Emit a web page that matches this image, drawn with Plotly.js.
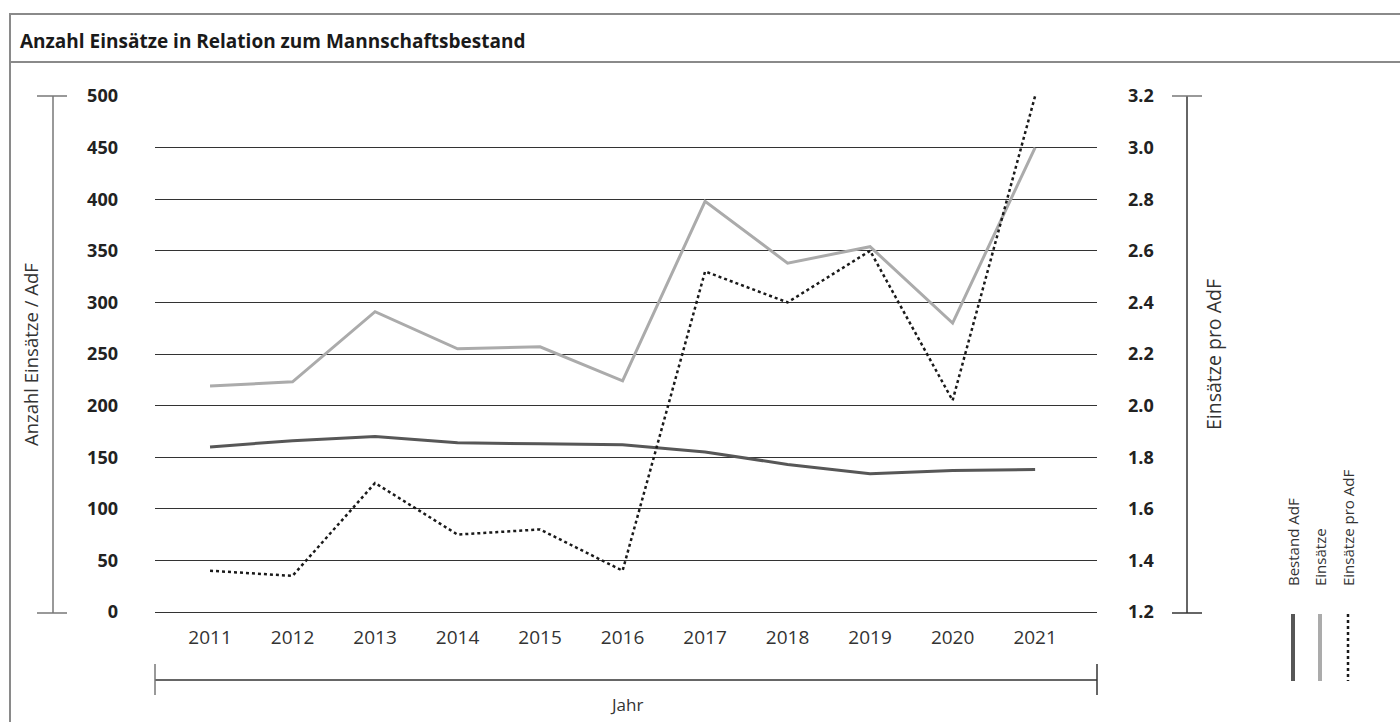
<!DOCTYPE html>
<html>
<head>
<meta charset="utf-8">
<script src="https://cdn.plot.ly/plotly-3.0.1.min.js"></script>
<style>
  html, body { margin: 0; padding: 0; background: #fff; }
  #chart { width: 1400px; height: 722px; }
</style>
</head>
<body>
<div id="chart"></div>
<script>
const years = ['2011', '2012', '2013', '2014', '2015', '2016', '2017', '2018', '2019', '2020', '2021'];
const bestand = [160, 166, 170, 164, 163, 162, 155, 143, 134, 137, 138];
const einsaetze = [219, 223, 291, 255, 257, 224, 398, 338, 354, 280, 450];
const proAdF = [1.36, 1.34, 1.70, 1.50, 1.52, 1.36, 2.52, 2.40, 2.60, 2.02, 3.20];

const leftTicks = [0, 50, 100, 150, 200, 250, 300, 350, 400, 450, 500];
const rightTicks = [1.2, 1.4, 1.6, 1.8, 2.0, 2.2, 2.4, 2.6, 2.8, 3.0, 3.2];
const seriesNames = ['Bestand AdF', 'Einsätze', 'Einsätze pro AdF'];

const W = 1400, H = 722;
const px = x => x / W;
const py = y => (H - y) / H;
const FONT = 'Open Sans, Noto Sans, sans-serif';

const traces = [
    { x: years, y: bestand, name: seriesNames[0], type: 'scatter', mode: 'lines',
      line: { color: '#575757', width: 3 } },
    { x: years, y: einsaetze, name: seriesNames[1], type: 'scatter', mode: 'lines',
      line: { color: '#ababab', width: 3 } },
    { x: years, y: proAdF, name: seriesNames[2], type: 'scatter', mode: 'lines', yaxis: 'y2',
      line: { color: '#1a1a1a', width: 2.5, dash: 'dot' } }
];

// frame, decorative axis brackets, legend samples
const line = (x0, y0, x1, y1, color, width, dash) => ({
    type: 'line', xref: 'paper', yref: 'paper',
    x0: px(x0), y0: py(y0), x1: px(x1), y1: py(y1),
    line: { color: color, width: width, dash: dash || 'solid' }
});

const shapes = [
    line(9, 14, 1400, 14, '#8a8a8a', 2),
    line(10, 14, 10, 722, '#8a8a8a', 2),
    line(9, 62, 1400, 62, '#8a8a8a', 2),
    // left bracket
    line(53, 96, 53, 613, '#777', 1.5),
    line(37, 96, 67, 96, '#777', 1.5),
    line(37, 613, 67, 613, '#777', 1.5),
    // right bracket
    line(1187, 96, 1187, 613, '#333', 1.5),
    line(1172, 96, 1202, 96, '#777', 1.5),
    line(1172, 613, 1202, 613, '#333', 1.5),
    // bottom bracket
    line(155, 680, 1097, 680, '#333', 1.5),
    line(155, 664, 155, 695, '#777', 1.5),
    line(1097, 664, 1097, 695, '#333', 1.5)
];

const legendX = [1293, 1320, 1348];
traces.forEach((t, i) => {
    shapes.push(line(legendX[i], 614, legendX[i], 681, t.line.color, i === 2 ? 2.5 : 4, t.line.dash));
});

const annotations = [
    { text: '<b>Anzahl Einsätze in Relation zum Mannschaftsbestand</b>', xref: 'paper', yref: 'paper',
      x: px(18), y: py(41), xanchor: 'left', yanchor: 'middle', showarrow: false,
      font: { family: FONT, size: 19, color: '#1a1a1a' } },
    { text: 'Anzahl Einsätze / AdF', xref: 'paper', yref: 'paper', textangle: -90,
      x: px(30), y: py(355), xanchor: 'center', yanchor: 'middle', showarrow: false,
      font: { family: FONT, size: 18.5, color: '#333' } },
    { text: 'Einsätze pro AdF', xref: 'paper', yref: 'paper', textangle: -90,
      x: px(1213), y: py(355), xanchor: 'center', yanchor: 'middle', showarrow: false,
      font: { family: FONT, size: 19.5, color: '#333' } },
    { text: 'Jahr', xref: 'paper', yref: 'paper',
      x: px(626), y: py(704), xanchor: 'center', yanchor: 'middle', showarrow: false,
      font: { family: FONT, size: 17, color: '#333' } }
];

seriesNames.forEach((n, i) => {
    annotations.push({ text: n, xref: 'paper', yref: 'paper', textangle: -90,
        x: px(legendX[i]), y: py(588), xanchor: 'center', yanchor: 'bottom', showarrow: false,
        font: { family: FONT, size: 15, color: '#333' } });
});

const layout = {
    width: W, height: H,
    margin: { l: 0, r: 0, t: 0, b: 0 },
    paper_bgcolor: '#fff', plot_bgcolor: '#fff',
    showlegend: false,
    font: { family: FONT, color: '#222' },
    xaxis: {
        domain: [px(155), px(1097)],
        type: 'category',
        range: [-0.667, 10.75],
        showgrid: false, zeroline: false, showline: false,
        ticks: '', ticklabelstandoff: 12,
        tickfont: { family: FONT, size: 19, color: '#333' }
    },
    yaxis: {
        domain: [py(612), py(96)],
        range: [0, 500],
        tickvals: leftTicks,
        showgrid: true, gridcolor: '#333', gridwidth: 1,
        zeroline: true, zerolinecolor: '#333', zerolinewidth: 1,
        showline: false, ticks: '', ticklabelstandoff: 36,
        tickfont: { family: FONT, size: 18, color: '#222', weight: 'bold' }
    },
    yaxis2: {
        overlaying: 'y', side: 'right',
        range: [1.2, 3.2],
        tickvals: rightTicks,
        tickformat: '.1f',
        showgrid: false, zeroline: false, showline: false,
        ticks: '', ticklabelstandoff: 30,
        tickfont: { family: FONT, size: 18, color: '#222', weight: 'bold' }
    },
    shapes: shapes,
    annotations: annotations
};

Plotly.newPlot('chart', traces, layout, { staticPlot: true, displayModeBar: false });
</script>
</body>
</html>
